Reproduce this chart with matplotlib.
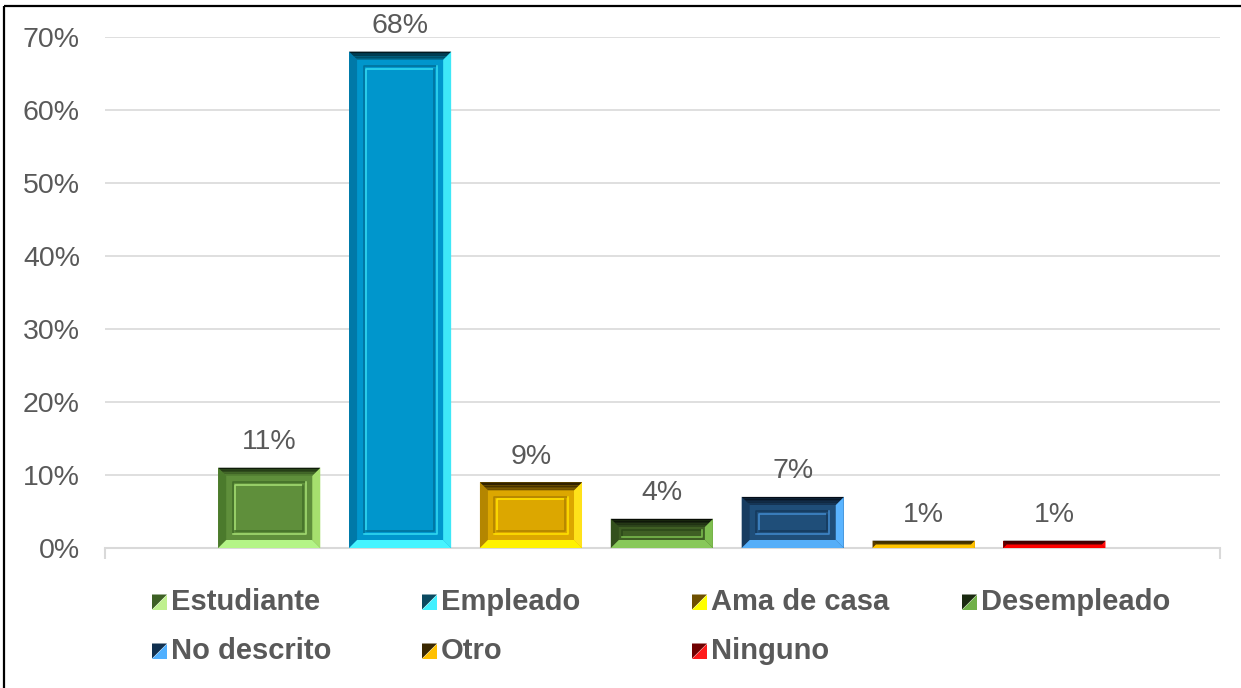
import matplotlib
matplotlib.use("Agg")
import matplotlib.pyplot as plt
import numpy as np
from matplotlib.patches import Polygon
from matplotlib.lines import Line2D

# ---------------- data ----------------
categories = ["Estudiante", "Empleado", "Ama de casa", "Desempleado",
              "No descrito", "Otro", "Ninguno"]
values = [11, 68, 9, 4, 7, 1, 1]          # percent
yticks = [0, 10, 20, 30, 40, 50, 60, 70]

# ---------------- styles ----------------
styles = {
    "Estudiante":  dict(main="#5f8f3b", left="#4b7a2c", right="#a6e06e", bottom="#b4f487",
                        top=("#0e1c08", "#4f7a30"), fd="#44702a", fl="#a2da70",
                        ld="#3d6024", ll="#bff08e"),
    "Empleado":    dict(main="#0096cc", left="#0079a8", right="#3ee8f8", bottom="#46f4ff",
                        top=("#001820", "#00607f"), fd="#00729c", fl="#30d8f0",
                        ld="#0a4a60", ll="#40f0ff"),
    "Ama de casa": dict(main="#dca700", left="#b48600", right="#ffe21a", bottom="#fff200",
                        top=("#1e1400", "#6e5000"), fd="#b08400", fl="#ffe000",
                        ld="#6e5000", ll="#ffff00"),
    "Desempleado": dict(main="#3f5f24", left="#33501c", right="#7fbf50", bottom="#88c85a",
                        top=("#060a03", "#2a401a"), fd="#2e4a1a", fl="#78b84c",
                        ld="#1a2a10", ll="#70b048"),
    "No descrito": dict(main="#1f4e79", left="#173c60", right="#5ab4ff", bottom="#55aef8",
                        top=("#050d18", "#143250"), fd="#153a5e", fl="#3f86c8",
                        ld="#10304f", ll="#50b0ff"),
    "Otro":        dict(main="#d9a000", left="#5a3c00", right="#ffc000", bottom="#ffc400",
                        top=("#0c0a00", "#2a2000"), fd="#a07000", fl="#ffd040",
                        ld="#3a2800", ll="#ffc000"),
    "Ninguno":     dict(main="#c00000", left="#600000", right="#ff1010", bottom="#ff0000",
                        top=("#120000", "#300000"), fd="#800000", fl="#ff3030",
                        ld="#700000", ll="#ff1a1a"),
}

W, H = 1241, 688
DPI = 100
text_col = "#595959"
grid_col = "#d9d9d9"
FONT = "Liberation Sans"

fig = plt.figure(figsize=(W / DPI, H / DPI), dpi=DPI)
fig.patch.set_facecolor("white")

ax_l, ax_r, ax_b, ax_t = 105, 1220, 548, 37
ax = fig.add_axes([ax_l / W, (H - ax_b) / H, (ax_r - ax_l) / W, (ax_b - ax_t) / H])
x = np.arange(len(categories))
ax.set_xlim(-1.255, len(categories) - 1 + 1.265)
ax.set_ylim(0, 70)
ax.set_facecolor("none")

for s in ["top", "right", "left"]:
    ax.spines[s].set_visible(False)
ax.spines["bottom"].set_color(grid_col)
ax.spines["bottom"].set_linewidth(1.5)
ax.set_yticks(yticks)
ax.set_yticklabels([f"{t}%" for t in yticks], fontsize=20.5, color=text_col, family=FONT)
ax.tick_params(axis="y", length=0, pad=18)
ax.set_xticks(list(ax.get_xlim()))
ax.set_xticklabels(["", ""])
ax.tick_params(axis="x", length=8, width=1.5, color=grid_col)
ax.yaxis.grid(True, color=grid_col, linewidth=1.2)
ax.set_axisbelow(True)

bar_w = 0.78
bars = ax.bar(x, values, width=bar_w, color="none", edgecolor="none")

inv = ax.transData.inverted()


def to_data(pts):
    return inv.transform(np.asarray(pts, dtype=float))


def mix(c1, c2, t):
    a = np.array(matplotlib.colors.to_rgb(c1))
    b = np.array(matplotlib.colors.to_rgb(c2))
    return tuple(a + (b - a) * t)


for rect, cat in zip(bars, categories):
    st = styles[cat]
    (L, B), (R, T) = ax.transData.transform(
        [(rect.get_x(), rect.get_y()), (rect.get_x() + rect.get_width(), rect.get_y() + rect.get_height())])
    b = min(8.0, (T - B) / 2, (R - L) / 2)
    kw = dict(closed=True, linewidth=0, antialiased=True, zorder=3)
    ax.add_patch(Polygon(to_data([(L, B), (R, B), (R, T), (L, T)]), facecolor=st["main"], **kw))
    ax.add_patch(Polygon(to_data([(L, B), (L + b, B + b), (L + b, T - b), (L, T)]),
                         facecolor=st["left"], **kw))
    ax.add_patch(Polygon(to_data([(R, B), (R, T), (R - b, T - b), (R - b, B + b)]),
                         facecolor=st["right"], **kw))
    ax.add_patch(Polygon(to_data([(L, B), (R, B), (R - b, B + b), (L + b, B + b)]),
                         facecolor=st["bottom"], **kw))
    n = 5
    for k in range(n):
        o1, o2 = b * k / n, b * (k + 1) / n
        ax.add_patch(Polygon(to_data([(L + o1, T - o1), (R - o1, T - o1), (R - o2, T - o2), (L + o2, T - o2)]),
                             facecolor=mix(st["top"][0], st["top"][1], k / (n - 1)), **kw))
    i = 14.5
    if (T - B) > 2 * i + 4:
        for off, c_tl, c_br in [(0, st["fd"], st["fl"]), (2.5, st["fl"], st["fd"])]:
            ii = i + off
            tl = to_data([(L + ii, B + ii), (L + ii, T - ii), (R - ii, T - ii)])
            br = to_data([(L + ii, B + ii), (R - ii, B + ii), (R - ii, T - ii)])
            ax.add_line(Line2D(tl[:, 0], tl[:, 1], color=c_tl, lw=1.2, zorder=4))
            ax.add_line(Line2D(br[:, 0], br[:, 1], color=c_br, lw=1.2, zorder=4))
    elif (T - B) > 2 * b + 6:
        ii = b + 3
        tl = to_data([(L + ii, B + ii), (L + ii, T - ii), (R - ii, T - ii)])
        br = to_data([(L + ii, B + ii), (R - ii, B + ii), (R - ii, T - ii)])
        ax.add_line(Line2D(tl[:, 0], tl[:, 1], color=st["fd"], lw=1.2, zorder=4))
        ax.add_line(Line2D(br[:, 0], br[:, 1], color=st["fl"], lw=1.2, zorder=4))

# data labels
for xi, v in zip(x, values):
    ax.annotate(f"{v}%", (xi, v), xytext=(0, 9), textcoords="offset points",
                ha="center", va="bottom", fontsize=20.5, color=text_col, family=FONT,
                annotation_clip=False)

# overlay axes in pixel coordinates for legend and border
ov = fig.add_axes([0, 0, 1, 1])
ov.set_xlim(0, W)
ov.set_ylim(H, 0)
ov.axis("off")
ov.set_facecolor("none")

ov.plot([4, W], [6, 6], color="black", lw=1.6, solid_capstyle="butt")
ov.plot([4, 4], [6, H], color="black", lw=1.6, solid_capstyle="butt")

ms = 15
for idx, cat in enumerate(categories):
    st = styles[cat]
    col, row = idx % 4, idx // 4
    tx = 171 + 270 * col
    ty = 602 + 49 * row
    mx0, mx1 = tx - ms - 4, tx - 4
    my0, my1 = ty - ms / 2, ty + ms / 2
    ov.add_patch(Polygon([(mx0, my0), (mx1, my0), (mx0, my1)], closed=True,
                         facecolor=st["ld"], linewidth=0))
    ov.add_patch(Polygon([(mx1, my0), (mx1, my1), (mx0, my1)], closed=True,
                         facecolor=st["ll"], linewidth=0))
    ov.text(tx, ty, cat, fontsize=21, fontweight="bold", color=text_col, family=FONT,
            ha="left", va="center")

fig.savefig("out.png", dpi=DPI, facecolor="white")
